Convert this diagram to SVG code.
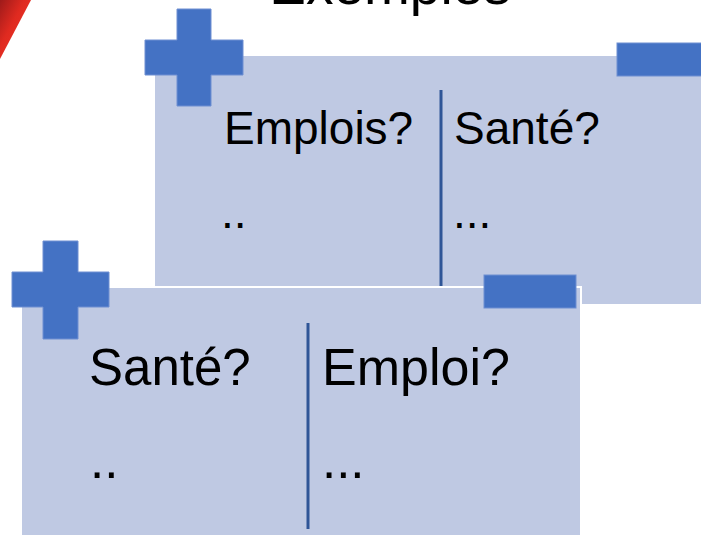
<svg xmlns="http://www.w3.org/2000/svg" width="701" height="535" viewBox="0 0 701 535">
  <defs>
    <style>
      .card { fill: #BFC9E3; stroke: #FFFFFF; stroke-width: 2; }
      .sign { fill: #4472C4; stroke: #6E8FD2; stroke-width: 1; }
      .div { stroke: #2F5597; stroke-width: 3; }
      .t { font-family: "Liberation Sans", Arial, sans-serif; fill: #000000; }
    </style>
    <linearGradient id="red" x1="0" y1="0" x2="1" y2="1">
      <stop offset="0" stop-color="#9E1A1A"/>
      <stop offset="0.4" stop-color="#E02A20"/>
      <stop offset="1" stop-color="#F03A2A"/>
    </linearGradient>
  </defs>
  <rect width="701" height="535" fill="#FFFFFF"/>

  <g id="decoration">
    <polygon points="0,0 31,0 0,59" fill="url(#red)"/>
  </g>

  <g id="title">
    <text class="t" x="390" y="4" font-size="55" text-anchor="middle">Exemples</text>
  </g>

  <g id="card-top">
    <rect class="card" x="154" y="55" width="560" height="250"/>
    <line class="div" x1="441" y1="90" x2="441" y2="286"/>
    <path class="sign" d="M177,9 H211 V40 H243 V75 H211 V106 H177 V75 H145 V40 H177 Z"/>
    <rect class="sign" x="617" y="43" width="95" height="33"/>
    <text class="t" x="224" y="144" font-size="46">Emplois?</text>
    <text class="t" x="454" y="144" font-size="46">Santé?</text>
    <text class="t" x="221" y="228" font-size="46">..</text>
    <text class="t" x="453" y="228" font-size="46">...</text>
  </g>

  <g id="card-bottom">
    <rect class="card" x="21" y="287" width="560" height="260"/>
    <line class="div" x1="308" y1="323" x2="308" y2="529"/>
    <path class="sign" d="M43,241 H78 V272 H109 V307 H78 V339 H43 V307 H12 V272 H43 Z"/>
    <rect class="sign" x="484" y="275" width="92" height="33"/>
    <text class="t" x="89" y="385" font-size="51">Santé?</text>
    <text class="t" x="322" y="385" font-size="52">Emploi?</text>
    <text class="t" x="90" y="478" font-size="51">..</text>
    <text class="t" x="322" y="478" font-size="51">...</text>
  </g>
</svg>
